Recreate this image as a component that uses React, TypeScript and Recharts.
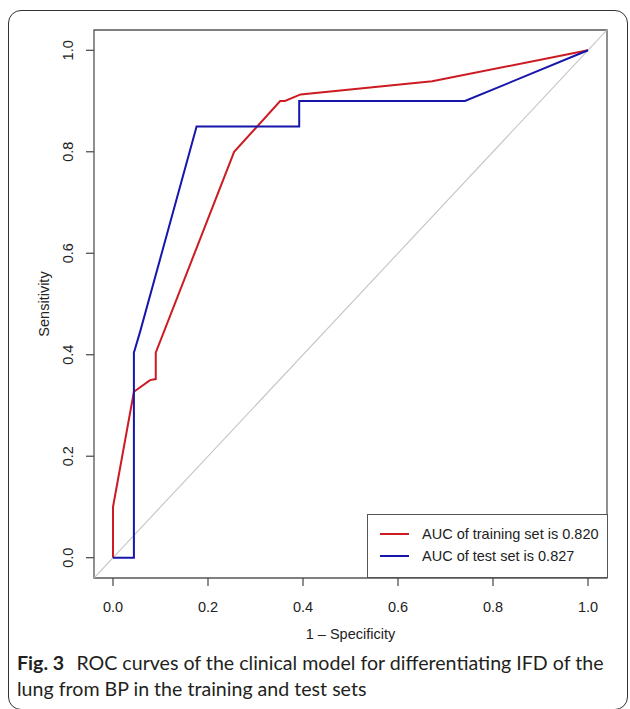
import React from 'react';
import { LineChart, Line, XAxis, YAxis, ReferenceArea, Legend } from 'recharts';

// Training set ROC (1 - specificity, sensitivity)
const fprTrain = [0, 0, 0.044, 0.078, 0.09, 0.09, 0.255, 0.352, 0.362, 0.395, 0.672, 1.0];
const tprTrain = [0, 0.1, 0.327, 0.35, 0.352, 0.404, 0.8, 0.9, 0.9, 0.913, 0.939, 1.0];

// Test set ROC
const fprTest = [0, 0.044, 0.044, 0.057, 0.176, 0.392, 0.392, 0.741, 1.0];
const tprTest = [0, 0, 0.404, 0.445, 0.85, 0.85, 0.9, 0.9, 1.0];

// Reference diagonal
const diagX = [-0.04, 1.04];
const diagY = [-0.04, 1.04];

const axisTicks = [0, 0.2, 0.4, 0.6, 0.8, 1.0];
const tickLabels = ['0.0', '0.2', '0.4', '0.6', '0.8', '1.0'];
const axisDomain = [-0.04, 1.04];

const seriesNames = ['AUC of training set is 0.820', 'AUC of test set is 0.827'];
const seriesColors = ['#cc1b22', '#1616aa'];

const xLabel = '1 \u2013 Specificity';
const yLabel = 'Sensitivity';

const trainData = fprTrain.map((x, i) => ({ x, y: tprTrain[i] }));
const testData = fprTest.map((x, i) => ({ x, y: tprTest[i] }));
const diagData = diagX.map((x, i) => ({ x, y: diagY[i] }));

const FONT = '"Liberation Sans", Arial, Helvetica, sans-serif';

const labelFor = (v: number) => {
  const idx = axisTicks.findIndex((t) => Math.abs(t - v) < 1e-9);
  return idx >= 0 ? tickLabels[idx] : String(v);
};

const XTick = (props: any) => {
  const { x, y, payload } = props;
  return (
    <text x={x} y={y + 26} textAnchor="middle" fontFamily={FONT} fontSize={14.5} fill="#222">
      {labelFor(payload.value)}
    </text>
  );
};

const YTick = (props: any) => {
  const { x, y, payload } = props;
  const bx = x - 13;
  return (
    <text
      x={bx}
      y={y}
      textAnchor="middle"
      fontFamily={FONT}
      fontSize={14.5}
      fill="#222"
      transform={`rotate(-90, ${bx}, ${y})`}
    >
      {labelFor(payload.value)}
    </text>
  );
};

const LegendBox = (props: any) => {
  const items = (props.payload || [])
    .filter((p: any) => p.type !== 'none' && seriesNames.indexOf(p.value) >= 0)
    .slice()
    .sort((a: any, b: any) => seriesNames.indexOf(a.value) - seriesNames.indexOf(b.value));
  return (
    <div
      style={{
        width: 241,
        height: 64,
        boxSizing: 'border-box',
        border: '1px solid #555',
        background: '#fff',
        position: 'relative',
        fontFamily: FONT,
        fontSize: 14.5,
        color: '#222',
      }}
    >
      {items.map((p: any, i: number) => (
        <div
          key={i}
          style={{
            position: 'absolute',
            left: 12,
            top: 9 + i * 22,
            height: 20,
            display: 'flex',
            alignItems: 'center',
            whiteSpace: 'nowrap',
          }}
        >
          <span
            style={{
              display: 'inline-block',
              width: 29,
              height: 0,
              borderTop: `2px solid ${p.color}`,
              marginRight: 13,
            }}
          />
          <span>{p.value}</span>
        </div>
      ))}
    </div>
  );
};

export default function App() {
  return (
    <div style={{ position: 'absolute', left: 0, top: 0, width: 630, height: 709, background: '#fff', overflow: 'hidden' }}>
      <div
        style={{
          position: 'absolute',
          left: 8,
          top: 10,
          width: 620,
          height: 700,
          boxSizing: 'border-box',
          border: '1.5px solid #333',
          borderRadius: 13,
        }}
      />
      <div style={{ position: 'absolute', left: 0, top: 0 }}>
        <LineChart width={630} height={709} margin={{ top: 30, right: 23, bottom: 91, left: 0 }}>
          <XAxis
            dataKey="x"
            type="number"
            domain={axisDomain}
            ticks={axisTicks}
            allowDataOverflow
            axisLine={false}
            tickLine={{ stroke: '#444', strokeWidth: 1.2 }}
            tickSize={8}
            tickMargin={0}
            height={40}
            tick={<XTick />}
            label={{
              content: (p: any) => {
                const vb = p.viewBox;
                return (
                  <text x={vb.x + vb.width / 2} y={vb.y + 61} textAnchor="middle" fontFamily={FONT} fontSize={14.5} fill="#222">
                    {xLabel}
                  </text>
                );
              },
            }}
          />
          <YAxis
            dataKey="y"
            type="number"
            domain={axisDomain}
            ticks={axisTicks}
            allowDataOverflow
            axisLine={false}
            tickLine={{ stroke: '#444', strokeWidth: 1.2 }}
            tickSize={8}
            tickMargin={0}
            width={94}
            tick={<YTick />}
            label={{
              content: (p: any) => {
                const vb = p.viewBox;
                const cx = 49;
                const cy = vb.y + vb.height / 2;
                return (
                  <text x={cx} y={cy} textAnchor="middle" fontFamily={FONT} fontSize={14.5} fill="#222" transform={`rotate(-90, ${cx}, ${cy})`}>
                    {yLabel}
                  </text>
                );
              },
            }}
          />
          <ReferenceArea x1={axisDomain[0]} x2={axisDomain[1]} y1={axisDomain[0]} y2={axisDomain[1]} fill="none" stroke="#555" strokeWidth={1.3} fillOpacity={0} />
          <Line data={diagData} dataKey="y" type="linear" stroke="#c4c4c4" strokeWidth={1.1} dot={false} activeDot={false} legendType="none" isAnimationActive={false} />
          <Line data={trainData} dataKey="y" name={seriesNames[0]} type="linear" stroke={seriesColors[0]} strokeWidth={2} dot={false} activeDot={false} isAnimationActive={false} />
          <Line data={testData} dataKey="y" name={seriesNames[1]} type="linear" stroke={seriesColors[1]} strokeWidth={2} dot={false} activeDot={false} isAnimationActive={false} />
          <Legend
            layout="horizontal"
            verticalAlign="middle"
            align="center"
            content={<LegendBox />}
            wrapperStyle={{ position: 'absolute', left: 367, top: 514, width: 241, height: 64 }}
          />
        </LineChart>
      </div>
      <div
        style={{
          position: 'absolute',
          left: 17,
          top: 650,
          fontFamily: 'Lato, "Open Sans", sans-serif',
          fontSize: 19.6,
          lineHeight: '26px',
          color: '#231f20',
          whiteSpace: 'nowrap',
        }}
      >
        <div>
          <span style={{ fontWeight: 700 }}>Fig. 3</span>
          <span>{'\u2002\u2009ROC curves of the clinical model for differentiating IFD of the'}</span>
        </div>
        <div>lung from BP in the training and test sets</div>
      </div>
    </div>
  );
}
